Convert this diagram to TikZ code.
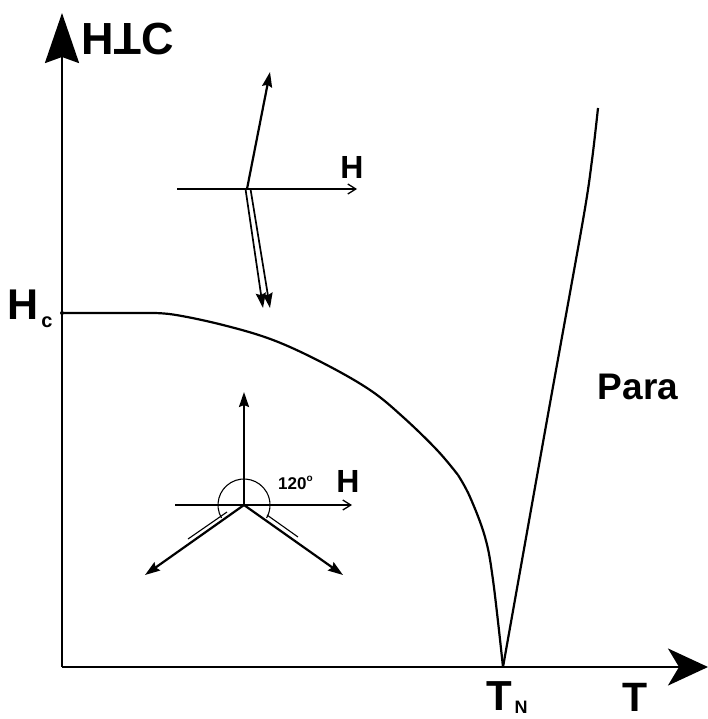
\documentclass[tikz,border=0pt]{standalone}
\usepackage{fontspec}
\setmainfont{Liberation Sans}
\usepackage{graphicx}
\usetikzlibrary{arrows.meta}
\tikzset{
  axisline/.style={line width=2.6pt},
  curveline/.style={line width=2.2pt, line join=round},
  fieldline/.style={line width=1.2pt, -{Straight Barb[length=8pt,width=10pt,line width=1.3pt]}},
  spinarrow/.style={line width=2.2pt, -{Stealth[length=15pt,width=10pt,inset=2pt]}},
  thinline/.style={line width=1.1pt},
  lbl/.style={inner sep=0pt, font=\bfseries},
}
\begin{document}
\begin{tikzpicture}[x=1pt,y=-1pt]
\useasboundingbox (0,0) rectangle (708,719);
% axes
\coordinate (O) at (62,667);
\coordinate (ytip) at (62,13);
\coordinate (xtip) at (708,667);
\draw[axisline, -{Stealth[length=50pt,width=34pt,inset=6pt]}] (O) -- (ytip);
\draw[axisline, -{Stealth[length=40pt,width=37pt,inset=11pt]}] (O) -- (xtip);
% labels
\node[lbl, font=\bfseries\fontsize{45}{45}\selectfont] (hpc) at (128,39) {H\rotatebox[origin=c]{180}{T}C};
\node[lbl, font=\bfseries\fontsize{43}{43}\selectfont] (hcH) at (23,305) {H};
\node[lbl, font=\bfseries\fontsize{20}{20}\selectfont] (hcsub) at (47,322) {c};
\node[lbl, font=\bfseries\fontsize{42}{42}\selectfont] (tnT) at (499,696) {T};
\node[lbl, font=\bfseries\fontsize{18}{18}\selectfont] (tnsub) at (521,707) {N};
\node[lbl, font=\bfseries\fontsize{41}{41}\selectfont] (tT) at (635,697) {T};
\node[lbl, font=\bfseries\fontsize{37}{37}\selectfont] (para) at (638,387) {Para};
% phase boundary
\coordinate (Hc) at (62,313);
\coordinate (TN) at (503,667);
\coordinate (kink) at (458,475);
\draw[curveline] (Hc) -- (145,313) plot[smooth, tension=0.6] coordinates {(145,313) (173,314.5) (223,325) (273,340) (323,363) (370,390) (403,417) (437,450) (kink)};
\draw[curveline] plot[smooth, tension=0.6] coordinates {(kink) (470,497) (485,537) (493,580) (TN)};
\draw[curveline] plot[smooth, tension=0.5] coordinates {(TN) (547,420) (583,220) (592,160) (598,108)};
\fill (Hc) circle (2pt);
% upper inset
\coordinate (uL) at (177,189);
\coordinate (uR) at (357,189);
\coordinate (uc) at (247,189);
\coordinate (uup) at (270,72);
\coordinate (ud1s) at (245.5,189);
\coordinate (ud1) at (263,308);
\coordinate (ud2s) at (250.5,189);
\coordinate (ud2) at (270,308);
\draw[fieldline] (uL) -- (uR);
\node[lbl, font=\bfseries\fontsize{32}{32}\selectfont] (hup) at (352,167) {H};
\draw[spinarrow] (uc) -- (uup);
\draw[spinarrow, line width=1.7pt] (ud1s) -- (ud1);
\draw[spinarrow, line width=1.7pt] (ud2s) -- (ud2);
% lower inset
\coordinate (lc) at (244,505);
\coordinate (lL) at (175,505);
\coordinate (lR) at (352,505);
\coordinate (lup) at (244,392);
\coordinate (lll) at (145,575);
\coordinate (llr) at (343,575);
\draw[fieldline] (lL) -- (lR);
\node[lbl, font=\bfseries\fontsize{32}{32}\selectfont] (hlow) at (348,481) {H};
\node[lbl, font=\bfseries\fontsize{17}{17}\selectfont, anchor=base west] (ang) at (278,489) {120\raisebox{0.45em}{\fontsize{10}{10}\selectfont o}};
\draw[spinarrow] (lc) -- (lup);
\draw[spinarrow] (lc) -- (lll);
\draw[spinarrow] (lc) -- (llr);
\draw[thinline] (244,505) ++(150:26) arc[start angle=150, end angle=390, radius=26];
\coordinate (t1a) at (188,539);
\coordinate (t1b) at (227,512);
\coordinate (t2a) at (267,515);
\coordinate (t2b) at (298,537);
\draw[thinline] (t1a) -- (t1b);
\draw[thinline] (t2a) -- (t2b);
\end{tikzpicture}
\end{document}
